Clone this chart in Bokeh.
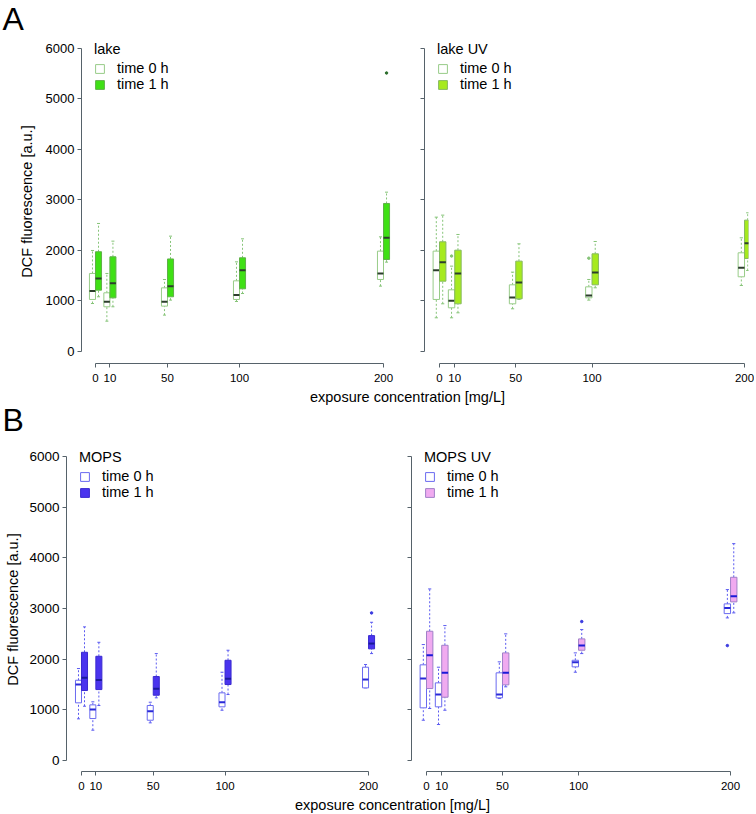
from bokeh.plotting import figure
from bokeh.models import Legend, LegendItem, ColumnDataSource, FixedTicker
from bokeh.layouts import column, row
from bokeh.embed import file_html
from bokeh.resources import INLINE
from bokeh.core.properties import value

FONT = "Liberation Sans"

CONC = [0, 10, 50, 100, 200]
X_TICKS = [0, 10, 50, 100, 200]
Y_TICKS = [0, 1000, 2000, 3000, 4000, 5000, 6000]

# ---- lake (A, left)
lake_t0_lo = [950, 600, 720, 990, 1294]
lake_t0_q1 = [1030, 885, 898, 1030, 1426]
lake_t0_med = [1200, 983, 983, 1116, 1545]
lake_t0_q3 = [1545, 1162, 1260, 1399, 1987]
lake_t0_hi = [2000, 1545, 1425, 1775, 2270]
lake_t1_lo = [1083, 885, 1017, 1148, 1769]
lake_t1_q1 = [1215, 1062, 1083, 1241, 1822]
lake_t1_med = [1445, 1353, 1294, 1610, 2251]
lake_t1_q3 = [1975, 1875, 1832, 1855, 2931]
lake_t1_hi = [2535, 2185, 2284, 2231, 3155]
lake_t0_out_x, lake_t0_out_y = [], []
lake_t1_out_x, lake_t1_out_y = [200], [5515]

# ---- lake UV (A, right)
lakeuv_t0_lo = [667, 667, 845, 1017, 1307]
lakeuv_t0_q1 = [1030, 865, 944, 1063, 1479]
lakeuv_t0_med = [1610, 1003, 1069, 1109, 1657]
lakeuv_t0_q3 = [1987, 1221, 1320, 1280, 1954]
lakeuv_t0_hi = [2660, 1690, 1571, 1426, 2251]
lakeuv_t1_lo = [944, 766, 1030, 1261, 1604]
lakeuv_t1_q1 = [1392, 944, 1043, 1320, 1842]
lakeuv_t1_med = [1769, 1545, 1366, 1564, 2145]
lakeuv_t1_q3 = [2172, 2006, 1789, 1934, 2601]
lakeuv_t1_hi = [2700, 2317, 2132, 2178, 2746]
lakeuv_t0_out_x, lakeuv_t0_out_y = [10, 100], [1890, 1848]
lakeuv_t1_out_x, lakeuv_t1_out_y = [], []

# ---- MOPS (B, left)
mops_t0_lo = [822, 598, 743, 992, 1433]
mops_t0_q1 = [1138, 828, 795, 1059, 1433]
mops_t0_med = [1499, 1006, 973, 1150, 1598]
mops_t0_q3 = [1584, 1098, 1085, 1335, 1841]
mops_t0_hi = [1815, 1158, 1150, 1742, 1894]
mops_t1_lo = [1071, 1085, 1237, 1302, 2110]
mops_t1_q1 = [1381, 1400, 1288, 1499, 2203]
mops_t1_med = [1631, 1591, 1414, 1611, 2308]
mops_t1_q3 = [2136, 2057, 1657, 1978, 2465]
mops_t1_hi = [2637, 2333, 2110, 2176, 2728]
mops_t0_out_x, mops_t0_out_y = [], []
mops_t1_out_x, mops_t1_out_y = [200], [2913]

# ---- MOPS UV (B, right)
mopsuv_t0_lo = [795, 710, 1223, 1742, 2814]
mopsuv_t0_q1 = [1039, 1059, 1237, 1848, 2899]
mopsuv_t0_med = [1617, 1302, 1302, 1939, 3011]
mopsuv_t0_q3 = [1888, 1532, 1730, 1978, 3091]
mopsuv_t0_hi = [2288, 1841, 1947, 2124, 3373]
mopsuv_t1_lo = [1026, 992, 1454, 2110, 2913]
mopsuv_t1_q1 = [1420, 1249, 1493, 2176, 3130]
mopsuv_t1_med = [2077, 1730, 1730, 2268, 3241]
mopsuv_t1_q3 = [2551, 2274, 2124, 2400, 3616]
mopsuv_t1_hi = [3386, 2663, 2499, 2584, 4280]
mopsuv_t0_out_x, mopsuv_t0_out_y = [200], [2268]
mopsuv_t1_out_x, mopsuv_t1_out_y = [100], [2742]

AXIS_COL = "#56626a"
BOX_W = 4.2
OFFSET = 2.1


def make_panel(x_range, y_range, frame_w, frame_h, min_left, min_right, show_labels,
               ylab_size, ylab_standoff):
    p = figure(frame_width=frame_w, frame_height=frame_h, x_range=x_range, y_range=y_range,
               output_backend="svg", toolbar_location=None,
               min_border_left=min_left, min_border_right=min_right,
               min_border_top=0, min_border_bottom=24)
    p.grid.visible = False
    p.outline_line_color = None
    p.background_fill_color = "white"
    p.border_fill_color = "white"
    p.xaxis.ticker = FixedTicker(ticks=X_TICKS, minor_ticks=[])
    p.yaxis.ticker = FixedTicker(ticks=Y_TICKS, minor_ticks=[])
    p.xaxis.bounds = (0, 200)
    p.yaxis.bounds = (0, 6000)
    for ax in (p.xaxis, p.yaxis):
        ax.axis_line_color = AXIS_COL
        ax.major_tick_line_color = AXIS_COL
        ax.major_tick_in = 0
        ax.major_tick_out = 4
        ax.major_label_text_font = FONT
        ax.major_label_text_color = "black"
    p.xaxis.major_label_standoff = 6
    p.yaxis.major_label_standoff = 3
    p.xaxis.major_label_text_font_size = "11.5px"
    p.yaxis.major_label_text_font_size = ylab_size
    if show_labels:
        p.yaxis.axis_label = "DCF fluorescence [a.u.]"
        p.yaxis.axis_label_text_font = FONT
        p.yaxis.axis_label_text_font_size = "14.5px"
        p.yaxis.axis_label_text_font_style = "normal"
        p.yaxis.axis_label_text_color = "black"
        p.yaxis.axis_label_standoff = ylab_standoff
    else:
        p.yaxis.major_label_overrides = {t: "" for t in Y_TICKS}
    return p


def draw_boxes(p, dx, lo, q1, med, q3, hi, out_x, out_y, fill, line, wcol, medcol, outcol):
    xs = [c + dx for c in CONC]
    src = ColumnDataSource(dict(
        x=xs, xl=[x - BOX_W / 2 for x in xs], xr=[x + BOX_W / 2 for x in xs],
        cl=[x - BOX_W / 4 for x in xs], cr=[x + BOX_W / 4 for x in xs],
        lo=lo, q1=q1, med=med, q3=q3, hi=hi))
    p.segment(x0="x", y0="q3", x1="x", y1="hi", source=src, line_color=wcol,
              line_dash="2 2", line_width=1)
    p.segment(x0="x", y0="lo", x1="x", y1="q1", source=src, line_color=wcol,
              line_dash="2 2", line_width=1)
    p.segment(x0="cl", y0="hi", x1="cr", y1="hi", source=src, line_color=wcol, line_width=1)
    p.segment(x0="cl", y0="lo", x1="cr", y1="lo", source=src, line_color=wcol, line_width=1)
    r = p.vbar(x="x", width=BOX_W, bottom="q1", top="q3", source=src,
               fill_color=fill, line_color=line, line_width=1)
    p.segment(x0="xl", y0="med", x1="xr", y1="med", source=src, line_color=medcol, line_width=2)
    if out_x:
        p.scatter(x=[c + dx for c in out_x], y=out_y, size=2.5, marker="circle",
                  fill_color=outcol, line_color=outcol)
    return r


def add_legend(p, title, r0, r1, loc):
    lg = Legend(items=[LegendItem(label="time 0 h", renderers=[r0]),
                       LegendItem(label="time 1 h", renderers=[r1])],
                title=title, location=loc,
                title_text_font=FONT, title_text_font_size="14.5px",
                title_text_font_style="normal", title_text_color="black",
                title_standoff=3,
                label_text_font=FONT, label_text_font_size="14.5px", label_text_color="black",
                glyph_width=11, glyph_height=11, label_standoff=12, label_height=16,
                spacing=0, padding=0, margin=0,
                border_line_color=None, background_fill_alpha=0)
    p.add_layout(lg)


def build(name, data, frame_w, frame_h, xr, yr, min_left, min_right, show_labels,
          ylab_size, ylab_standoff, fill1, line1, line0, wcol, med0, med1, outcol, loc):
    p = make_panel(xr, yr, frame_w, frame_h, min_left, min_right, show_labels,
                   ylab_size, ylab_standoff)
    (t0, t1, o0, o1) = data
    r0 = draw_boxes(p, -OFFSET, *t0, *o0, "white", line0, wcol, med0, outcol)
    r1 = draw_boxes(p, OFFSET, *t1, *o1, fill1, line1, wcol, med1, outcol)
    add_legend(p, name, r0, r1, loc)
    return p


FH = 324
YR_A = (-238, 6178)
YR_B = (-217, 6177)
LEG_LOC = (13, FH - 53)

pA1 = build("lake",
            ((lake_t0_lo, lake_t0_q1, lake_t0_med, lake_t0_q3, lake_t0_hi),
             (lake_t1_lo, lake_t1_q1, lake_t1_med, lake_t1_q3, lake_t1_hi),
             (lake_t0_out_x, lake_t0_out_y), (lake_t1_out_x, lake_t1_out_y)),
            319, FH, (-9.72, 211.8), YR_A, 81, 0, True, "13px", 8,
            "#3fe015", "#5fb048", "#98cc88", "#86c478", "#2c3e2c", "#2c3e2c", "#2c6e2c",
            LEG_LOC)
pA2 = build("lake UV",
            ((lakeuv_t0_lo, lakeuv_t0_q1, lakeuv_t0_med, lakeuv_t0_q3, lakeuv_t0_hi),
             (lakeuv_t1_lo, lakeuv_t1_q1, lakeuv_t1_med, lakeuv_t1_q3, lakeuv_t1_hi),
             (lakeuv_t0_out_x, lakeuv_t0_out_y), (lakeuv_t1_out_x, lakeuv_t1_out_y)),
            324, FH, (-9.84, 202.6), YR_A, 24, 6, False, "13px", 8,
            "#a6ea1e", "#86b860", "#98cc88", "#86c478", "#2c3e2c", "#2c3e2c", "#86c478",
            LEG_LOC)
pB1 = build("MOPS",
            ((mops_t0_lo, mops_t0_q1, mops_t0_med, mops_t0_q3, mops_t0_hi),
             (mops_t1_lo, mops_t1_q1, mops_t1_med, mops_t1_q3, mops_t1_hi),
             (mops_t0_out_x, mops_t0_out_y), (mops_t1_out_x, mops_t1_out_y)),
            322, FH, (-10.45, 213.9), YR_B, 66, 0, True, "13.5px", 5,
            "#4a34ee", "#3a2ad0", "#6a6af0", "#5a5af0", "#2a2ad8", "#1a1a9a", "#3a3ae0",
            LEG_LOC)
pB2 = build("MOPS UV",
            ((mopsuv_t0_lo, mopsuv_t0_q1, mopsuv_t0_med, mopsuv_t0_q3, mopsuv_t0_hi),
             (mopsuv_t1_lo, mopsuv_t1_q1, mopsuv_t1_med, mopsuv_t1_q3, mopsuv_t1_hi),
             (mopsuv_t0_out_x, mopsuv_t0_out_y), (mopsuv_t1_out_x, mopsuv_t1_out_y)),
            337, FH, (-9.87, 211.8), YR_B, 23, 6, False, "13.5px", 5,
            "#f0aaf0", "#a080c8", "#6a6af0", "#5a5af0", "#2a2ad8", "#1a1ad8", "#3a3ae0",
            LEG_LOC)


def text_fig(h, items):
    f = figure(width=754, height=h, x_range=(0, 754), y_range=(0, h),
               x_axis_type=None, y_axis_type=None, output_backend="svg",
               toolbar_location=None, min_border=0)
    f.grid.visible = False
    f.outline_line_color = None
    for (tx, ty, s, size, base, align) in items:
        f.text(x=[tx], y=[ty], text=[s], text_font=value(FONT), text_font_size=size,
               text_baseline=base, text_align=align, text_color="black")
    return f


XLAB = "exposure concentration [mg/L]"
hA = text_fig(39, [(2, 39, "A", "32px", "top", "left")])
mid = text_fig(60, [(407, 51, XLAB, "14.5px", "middle", "center"),
                    (2, 46, "B", "32px", "top", "left")])
bot = text_fig(18, [(392, 9, XLAB, "14.5px", "middle", "center")])

layout = column(hA, row(pA1, pA2), mid, row(pB1, pB2), bot)

open("out.html", "w").write(file_html(layout, INLINE))
